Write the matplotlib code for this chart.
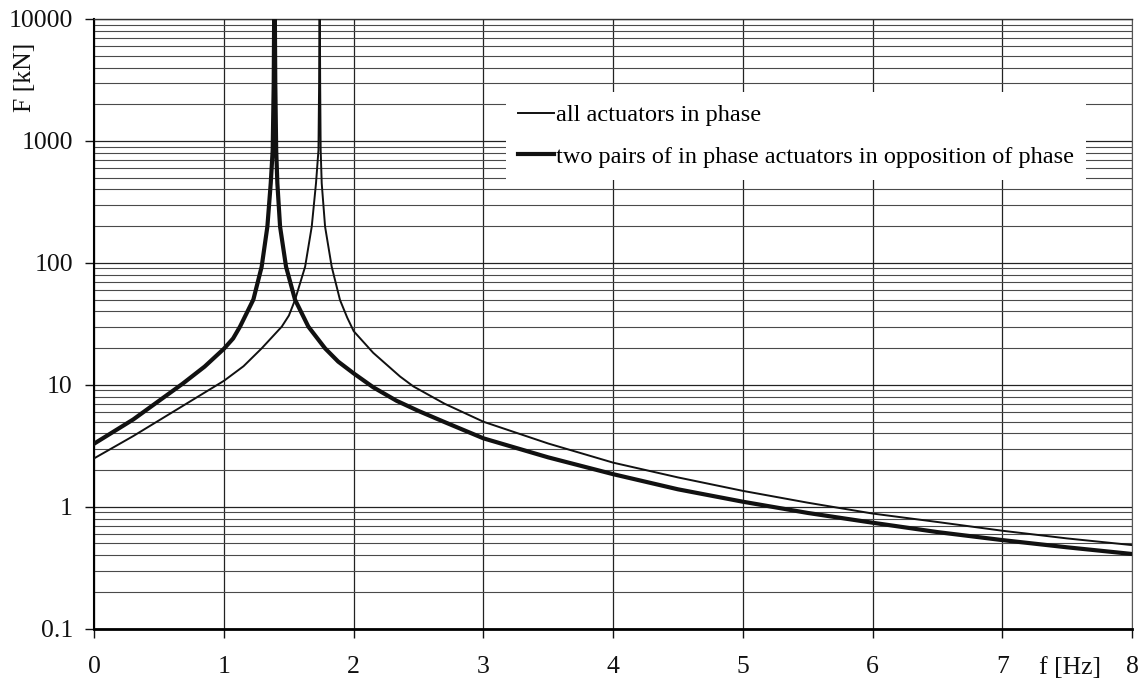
import matplotlib
matplotlib.use('Agg')
import matplotlib.pyplot as plt
from matplotlib import ticker, transforms

# ---- Data (f in Hz, F in kN) ----
f_inphase = [0, 0.3, 0.66, 1.0, 1.15, 1.29, 1.445, 1.5, 1.547, 1.625,
             1.676, 1.709, 1.728, 1.733, 1.737, 1.741, 1.745, 1.753, 1.779,
             1.83, 1.894, 1.95, 2.0, 2.15, 2.357, 2.46, 2.7, 3.0, 3.5, 4.0,
             4.5, 5.0, 5.5, 6.0, 6.5, 7.0, 7.5, 8.0]
F_inphase = [2.5, 3.8, 6.5, 10.8, 14.2, 19.9, 30, 37, 49.6, 93,
             198, 450, 841, 3000, 30000, 3000, 841, 450, 198,
             93, 49.6, 35.5, 27.5, 18.3, 11.7, 9.7, 7.0, 4.98, 3.3, 2.3,
             1.74, 1.35, 1.08, 0.88, 0.75, 0.636, 0.55, 0.485]

f_oppos = [0, 0.3, 0.68, 0.85, 1.0, 1.07, 1.123, 1.226, 1.29, 1.334,
           1.36, 1.375, 1.383, 1.389, 1.395, 1.402, 1.411, 1.432, 1.478,
           1.547, 1.65, 1.779, 1.88, 2.0, 2.15, 2.33, 2.5, 2.7, 3.0, 3.5,
           4.0, 4.5, 5.0, 5.5, 6.0, 6.5, 7.0, 7.5, 8.0]
F_oppos = [3.3, 5.2, 10.2, 14.1, 19.8, 24, 30, 50, 93, 198,
           450, 840, 3000, 30000, 3000, 840, 450, 198, 93,
           50, 30, 19.9, 15.5, 12.4, 9.55, 7.4, 6.1, 4.95, 3.64, 2.54,
           1.85, 1.39, 1.10, 0.89, 0.74, 0.62, 0.533, 0.465, 0.41]

y_ticks = [0.1, 1, 10, 100, 1000, 10000]
y_labels = ['0.1', '1', '10', '100', '1000', '10000']
x_ticks = list(range(0, 9))

LABEL_A = 'all actuators in phase'
LABEL_B = 'two pairs of in phase actuators in opposition of phase'

# ---- Style ----
plt.rcParams['font.family'] = ['Liberation Serif', 'DejaVu Serif']
FS = 17.5
FS_TICK = 18.5
INK = '#111111'

fig = plt.figure(figsize=(11.45, 6.81), dpi=100)
fig.patch.set_facecolor('white')
ax = fig.add_axes([0.0824, 0.0768, 0.9062, 0.8953])

ax.plot(f_inphase, F_inphase, color=INK, lw=1.4, label=LABEL_A, zorder=3)
ax.plot(f_oppos, F_oppos, color=INK, lw=3.0, label=LABEL_B, zorder=3)

ax.set_yscale('log')
ax.set_xlim(0, 8)
ax.set_ylim(0.1, 10000)
ax.yaxis.set_major_locator(ticker.FixedLocator(y_ticks))
ax.yaxis.set_major_formatter(ticker.FixedFormatter(y_labels))
ax.yaxis.set_minor_locator(ticker.LogLocator(base=10, subs=range(2, 10)))
ax.yaxis.set_minor_formatter(ticker.NullFormatter())
ax.set_xticks(x_ticks)
ax.set_xticklabels([str(v) for v in x_ticks])

# grid: every decade multiple horizontally, every integer vertically
ax.grid(which='major', axis='both', color='#222222', lw=0.9)
ax.grid(which='minor', axis='y', color='#4a4a4a', lw=0.8)
ax.set_axisbelow(True)

ax.tick_params(which='major', direction='out', length=6.5, width=1.0,
               colors=INK, labelsize=FS_TICK)
ax.tick_params(axis='x', pad=13)
ax.tick_params(axis='y', pad=9)
ax.tick_params(which='minor', length=0)

ax.spines['left'].set_linewidth(1.5)
ax.spines['bottom'].set_linewidth(2.0)
ax.spines['top'].set_linewidth(1.0)
ax.spines['top'].set_color('#333333')
ax.spines['right'].set_linewidth(0.8)
ax.spines['right'].set_color('#555555')

# axis titles placed like the original
ax.text(-0.0668, 0.905, 'F [kN]', transform=ax.transAxes, rotation=90,
        ha='center', va='center', fontsize=FS_TICK, color=INK)
trans = transforms.blended_transform_factory(ax.transData, ax.transAxes)
ax.text(7.52, -0.047, 'f [Hz]', transform=trans, ha='center', va='top',
        fontsize=FS_TICK, color=INK)

leg = ax.legend(loc='upper left', bbox_to_anchor=(0.397, 0.880),
                borderaxespad=0, frameon=True, fancybox=False,
                facecolor='white', edgecolor='none', framealpha=1,
                fontsize=FS, handlelength=1.45, handletextpad=0.1,
                labelspacing=0.8, borderpad=0.5)
leg.set_zorder(5)

fig.savefig('out.png', dpi=100, facecolor='white')
